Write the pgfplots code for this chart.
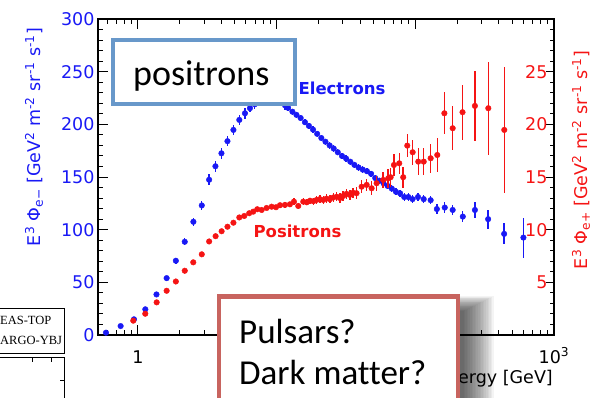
\documentclass[border=0pt]{standalone}
\usepackage{fontspec}
\setmainfont{DejaVu Sans}
\newfontfamily\calibri[Ligatures=NoCommon]{Carlito}
\newfontfamily\legserif{Liberation Serif}
\usepackage{pgfplots}
\usepackage{pgfplotstable}
\pgfplotsset{compat=1.18}

\definecolor{eblue}{RGB}{25,25,245}
\definecolor{pred}{RGB}{245,20,20}
\definecolor{boxblue}{RGB}{104,152,202}
\definecolor{boxred}{RGB}{200,100,95}

% E^3 x electron flux (left scale): energy [GeV], value, error
\pgfplotstableread{
E     phi    err
0.588 2.2    1
0.75  8.5    1
0.936 14.9   1.5
1.13  24.4   1.5
1.36  38.5   2
1.61  54     2
1.876 70.5   3
2.175 88.5   3.5
2.51  107.5  4
2.885 123    4
3.26  147.4  5
3.62  160.2  5
4.0   172.5  5
4.42  184    5
4.88  194.7  5
5.38  204.2  5
5.91  210.5  5
6.42  215.3  4
6.95  219    4
7.5   222    4
8.1   224    4
8.7   225    4
9.4   225    4
10.1  224    4
10.9  221    4
11.5  218    4
12.1  215.6  3
13.0  212    3
13.9  209    3
14.9  206    3
16.0  202    3
17.1  198.5  3
18.3  195    3
19.6  191    3
21.0  187    3
22.5  183.5  3
24.1  180    3
25.8  177    3
27.6  173.5  3
29.6  170    3
31.7  167.5  3
34.0  164.5  3
36.4  161.5  3
39.0  159    3
41.8  157    3
44.8  155.5  3
48.0  153    3
51.4  149    3
55.1  146.5  3
59.0  144    3
63.2  141.5  3
67.7  139    3
72.5  136    3.5
77.7  134.5  3.5
83.2  131    4
89.1  131    4
95.5  129    4
104.6 131    4
115   129    4
129   128    4
143   119.6  5
163   121    5
186   118.7  5
220   112.4  5
269   118.7  8
335   110    9
437   96     10
602   92.5   19
}\electrons

% E^3 x positron flux (right scale): energy [GeV], value, error
\pgfplotstableread{
E     phi    err
0.925 1.36   0.05
1.129 2.02   0.06
1.364 3.1    0.08
1.61  4.2    0.1
1.876 5.08   0.1
2.175 6.1    0.12
2.505 6.9    0.12
2.885 7.66   0.15
3.26  8.88   0.15
3.63  9.38   0.15
4.01  9.85   0.15
4.42  10.28  0.15
4.88  10.66  0.15
5.38  11.16  0.15
5.84  11.3   0.15
6.34  11.56  0.2
6.78  11.71  0.2
7.25  11.94  0.2
7.8   11.87  0.2
8.47  12.06  0.2
9.2   12.18  0.2
9.89  12.13  0.2
10.57 12.32  0.25
11.48 12.35  0.25
12.47 12.41  0.25
13.33 12.66  0.3
14.32 12.25  0.3
15.56 12.66  0.3
16.5  12.6   0.3
17.4  12.75  0.3
18.4  12.7   0.35
19.4  12.82  0.35
20.5  12.9   0.35
21.7  12.82  0.35
22.9  12.95  0.4
24.2  12.89  0.4
25.6  13.05  0.4
27.1  13.13  0.4
28.6  13.0   0.45
30.2  13.2   0.45
31.9  13.4   0.5
33.7  13.3   0.5
35.6  13.5   0.5
37.7  13.46  0.55
41.0  14.08  0.6
44.6  14.25  0.6
48.4  13.93  0.65
52.6  14.41  0.7
58.7  14.72  0.8
63.8  14.88  0.9
66.4  14.98  0.9
70.1  16.14  1.0
76.6  16.3   1.0
81.8  14.98  1.0
87.5  17.98  1.1
95.7  17.35  1.2
105   16.46  1.3
115   16.46  1.3
129   16.78  1.4
144   17.09  1.6
162   21.05  2.0
186   19.63  2.1
219   21.15  2.6
269   21.75  3.3
336   21.53  4.4
438   19.47  6.0
}\positrons

\begin{document}
\begin{tikzpicture}
\pgfplotsset{
  every axis/.append style={
    at={(98bp,-335bp)}, anchor=south west,
    scale only axis, width=456bp, height=316bp,
    xmode=log, xmin=0.515, xmax=1000,
    axis line style={line width=1.3bp},
    tick style={black, line width=1bp},
    tick align=inside,
    major tick length=10bp, minor tick length=5bp,
    /pgf/number format/assume math mode=true,
    tick label style={font=\fontsize{17.5bp}{20bp}\selectfont},
  },
}
% electrons, left scale, full frame
\begin{axis}[
  ymin=0, ymax=300,
  xtick={1,10,100,1000},
  xticklabels={1,,,10\textsuperscript{3}},
  minor xtick={0.6,0.7,0.8,0.9,2,3,4,5,6,7,8,9,20,30,40,50,60,70,80,90,200,300,400,500,600,700,800,900},
  xtick pos=both,
  xticklabel style={anchor=base, yshift=-28bp},
  ytick={0,50,...,300},
  minor ytick={10,20,30,40,60,70,80,90,110,120,130,140,160,170,180,190,210,220,230,240,260,270,280,290},
  ytick pos=left,
  yticklabel style={text=eblue},
]
\addplot[only marks, mark=*, mark size=2.8bp, color=eblue,
  error bars/.cd, y dir=both, y explicit,
  error bar style={line width=1.3bp}, error mark=none]
  table[x=E, y=phi, y error=err] {\electrons};
\end{axis}
% positrons, right scale
\begin{axis}[
  ymin=0, ymax=30,
  axis x line=none,
  axis y line*=right,
  ytick={5,10,15,20,25},
  minor ytick={1,2,3,4,6,7,8,9,11,12,13,14,16,17,18,19,21,22,23,24,26,27,28,29},
  major tick length=8bp, minor tick length=4bp,
  yticklabel style={text=pred, anchor=east, xshift=-3bp},
]
\addplot[only marks, mark=*, mark size=2.8bp, color=pred,
  error bars/.cd, y dir=both, y explicit,
  error bar style={line width=1.5bp}, error mark=none]
  table[x=E, y=phi, y error=err] {\positrons};
\end{axis}

% series names and axis titles
\node[font=\bfseries\fontsize{16.5bp}{18bp}\selectfont, text=eblue] at (342bp,-88bp) {Electrons};
\node[font=\bfseries\fontsize{16.5bp}{18bp}\selectfont, text=pred] at (297.5bp,-231bp) {Positrons};
\node[rotate=90, text=eblue, font=\fontsize{17.5bp}{20bp}\selectfont]
  at (34bp,-137bp) {E\textsuperscript{3} Φ\textsubscript{e−} [GeV\textsuperscript{2} m\textsuperscript{-2} sr\textsuperscript{-1} s\textsuperscript{-1}]};
\node[rotate=90, text=pred, font=\fontsize{17.5bp}{20bp}\selectfont]
  at (581bp,-160bp) {E\textsuperscript{3} Φ\textsubscript{e+} [GeV\textsuperscript{2} m\textsuperscript{-2} sr\textsuperscript{-1} s\textsuperscript{-1}]};
\node[anchor=base east, inner sep=0pt, font=\fontsize{17.5bp}{20bp}\selectfont] at (553bp,-383bp) {Energy [GeV]};

% neighbouring legend panel
\draw[line width=0.8bp] (-2bp,-308bp) rectangle (64bp,-353bp);
\node[anchor=base west, inner sep=0pt, font=\legserif\fontsize{12.5bp}{14bp}\selectfont] at (0bp,-324bp) {EAS-TOP};
\node[anchor=base west, inner sep=0pt, font=\legserif\fontsize{12.5bp}{14bp}\selectfont] at (0bp,-344bp) {ARGO-YBJ};
\draw[line width=0.8bp] (-2bp,-357bp) rectangle (64bp,-420bp);
\draw[line width=0.8bp] (32bp,-357bp) -- ++(0,-5bp) (51bp,-357bp) -- ++(0,-5bp) (64bp,-380bp) -- ++(-4bp,0);

% callout boxes
\draw[boxblue, line width=4bp, fill=white] (113bp,-40bp) rectangle (294.7bp,-104bp);
\node[anchor=base west, inner sep=0pt, font=\calibri\fontsize{36bp}{40bp}\selectfont] at (133bp,-85bp) {positrons};

% soft shadow of the lower callout
\foreach \i in {0,...,19} {
  \fill[black, opacity=0.042] (240bp,-296bp-\i*0.8bp) rectangle (494bp-\i*1.6bp,-420bp);
}
\draw[boxred, line width=4.8bp, fill=white] (219bp,-296.5bp) rectangle (458bp,-420bp);
\node[anchor=base west, inner sep=0pt, font=\calibri\fontsize{35bp}{40bp}\selectfont] at (239bp,-343bp) {Pulsars?};
\node[anchor=base west, inner sep=0pt, font=\calibri\fontsize{35bp}{40bp}\selectfont] at (239bp,-384bp) {Dark matter?};

\pgfresetboundingbox
\useasboundingbox (0,0) rectangle (597bp,-398bp);
\end{tikzpicture}
\end{document}
